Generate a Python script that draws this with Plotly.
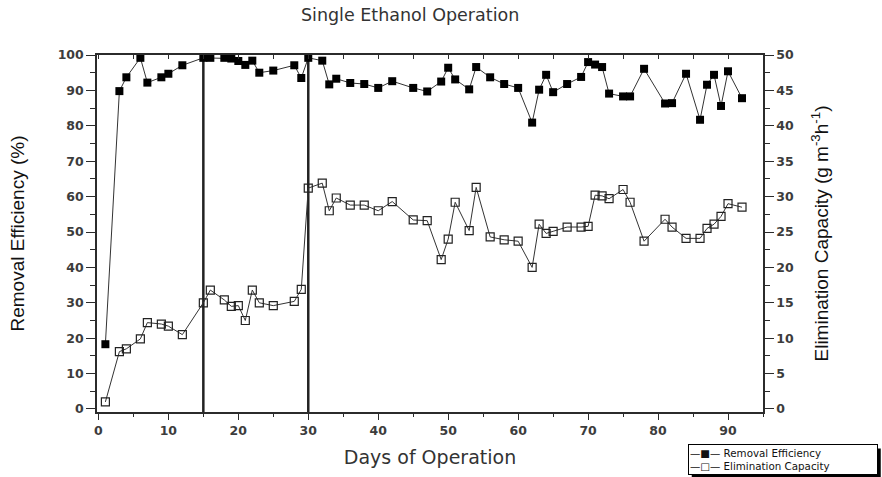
import plotly.graph_objects as go

# Sampling days and measured series
days = [1, 3, 4, 6, 7, 9, 10, 12, 15, 16, 18, 19, 20, 21, 22, 23, 25, 28, 29, 30,
        32, 33, 34, 36, 38, 40, 42, 45, 47, 49, 50, 51, 53, 54, 56, 58, 60,
        62, 63, 64, 65, 67, 69, 70, 71, 72, 73, 75, 76, 78,
        81, 82, 84, 86, 87, 88, 89, 90, 92]

removal_efficiency = [18.3, 89.8, 93.7, 99.2, 92.2, 93.7, 94.7, 97.1, 99.2, 99.2,
                      99.2, 99.0, 98.3, 97.2, 98.4, 95.0, 95.6, 97.1, 93.5, 99.2,
                      98.4, 91.7, 93.3, 92.1, 91.8, 90.7, 92.6, 90.7, 89.7, 92.5,
                      96.4, 93.1, 90.3, 96.6, 93.7, 91.8, 90.7, 80.9, 90.2, 94.4,
                      89.5, 91.8, 93.8, 98.0, 97.3, 96.6, 89.1, 88.3, 88.3, 96.1,
                      86.3, 86.4, 94.7, 81.7, 91.6, 94.4, 85.6, 95.4, 87.8]

elimination_capacity = [1.0, 8.1, 8.5, 9.9, 12.2, 12.0, 11.7, 10.5, 15.0, 16.8,
                        15.4, 14.5, 14.6, 12.5, 16.8, 15.0, 14.6, 15.2, 16.9, 31.2,
                        31.9, 28.0, 29.8, 28.8, 28.8, 28.0, 29.3, 26.7, 26.6, 21.1,
                        24.0, 29.2, 25.2, 31.3, 24.3, 23.9, 23.7, 20.0, 26.1, 24.8,
                        25.1, 25.7, 25.7, 25.8, 30.2, 30.1, 29.7, 31.0, 29.2, 23.7,
                        26.8, 25.7, 24.1, 24.1, 25.5, 26.1, 27.2, 29.0, 28.5]

# Phase boundaries (days)
phase_changes = [15, 30]

x_ticks = list(range(0, 100, 10))
re_ticks = list(range(0, 101, 10))
ec_ticks = list(range(0, 51, 5))

AX = "#2b2b2b"
TICK_FONT = dict(family="DejaVu Sans", size=12.5, color="#3c3c3c", weight="bold")
TITLE_FONT = dict(family="Liberation Sans, Arial", size=19, color="#111")

fig = go.Figure()

fig.add_trace(go.Scatter(
    x=days, y=removal_efficiency, name="Removal Efficiency",
    mode="lines+markers", xaxis="x", yaxis="y",
    line=dict(color="#333", width=1),
    marker=dict(symbol="square", size=8, color="#000"),
    showlegend=False,
))
fig.add_trace(go.Scatter(
    x=days, y=elimination_capacity, name="Elimination Capacity",
    mode="lines+markers", xaxis="x2", yaxis="y2",
    line=dict(color="#333", width=1),
    marker=dict(symbol="square-open", size=8, color="#222", line=dict(width=1.2)),
    showlegend=False,
))

for d in phase_changes:
    fig.add_vline(x=d, line_width=2.5, line_color="#222", layer="below")

# Legend box (bottom right) with a drop shadow
LEG_X, LEG_Y = 0.887, -0.091
LEG_W, LEG_H = 186, 27
fig.add_shape(type="rect", xref="paper", yref="paper",
              xsizemode="pixel", ysizemode="pixel",
              xanchor=LEG_X, yanchor=LEG_Y,
              x0=4, x1=LEG_W + 7, y0=-(LEG_H + 7), y1=-4,
              fillcolor="#000", line=dict(width=0), layer="above")
fig.add_annotation(
    xref="paper", yref="paper", x=LEG_X, y=LEG_Y,
    xanchor="left", yanchor="top", align="left", valign="middle",
    showarrow=False, width=LEG_W, height=LEG_H,
    text=("\u2014\u25A0\u2014 Removal Efficiency<br>"
          "\u2014\u25A1\u2014 Elimination Capacity"),
    bgcolor="#fff", bordercolor="#000", borderwidth=1, borderpad=1,
    font=dict(family="DejaVu Sans", size=10.3, color="#111"),
)

fig.update_layout(
    width=882, height=477,
    margin=dict(l=97, r=119, t=54.5, b=64.5),
    paper_bgcolor="#fff", plot_bgcolor="#fff",
    title=dict(text="Single Ethanol Operation", x=0.465, xanchor="center",
               y=0.968, yanchor="middle",
               font=dict(family="DejaVu Sans", size=17.5, color="#333")),
    xaxis=dict(
        range=[-0.2, 95], tickvals=x_ticks, ticks="outside", ticklen=6,
        tickwidth=1.3, tickcolor=AX, showline=True, linecolor=AX, linewidth=1.5,
        showgrid=False, zeroline=False, tickfont=TICK_FONT,
        minor=dict(dtick=5, ticks="outside", ticklen=3, tickcolor=AX, tickwidth=1.3),
        title=dict(text="Days of Operation", standoff=14,
                   font=dict(family="DejaVu Sans", size=19, color="#333")),
    ),
    xaxis2=dict(
        range=[-0.2, 95], overlaying="x", side="top", anchor="y2",
        dtick=5, ticks="inside", ticklen=4, tickwidth=1.3, tickcolor=AX,
        showticklabels=False, showline=True, linecolor=AX, linewidth=1.5,
        showgrid=False, zeroline=False,
    ),
    yaxis=dict(
        range=[-0.85, 100], tickvals=re_ticks, ticks="outside", ticklen=9,
        tickwidth=1.3, tickcolor=AX, showline=True, linecolor=AX, linewidth=1.5,
        showgrid=False, zeroline=False, tickfont=TICK_FONT,
        minor=dict(dtick=5, ticks="outside", ticklen=5, tickcolor=AX, tickwidth=1.3),
        title=dict(text="Removal Efficiency (%)", standoff=28, font=TITLE_FONT),
    ),
    yaxis2=dict(
        range=[-0.425, 50], tickvals=ec_ticks, overlaying="y", side="right",
        anchor="x", ticks="outside", ticklen=9, tickwidth=1.3, tickcolor=AX,
        showline=True, linecolor=AX, linewidth=1.5,
        showgrid=False, zeroline=False, tickfont=TICK_FONT,
        minor=dict(dtick=2.5, ticks="outside", ticklen=5, tickcolor=AX, tickwidth=1.3),
        title=dict(text="Elimination Capacity (g m<sup>-3</sup>h<sup>-1</sup>)",
                   standoff=22, font=TITLE_FONT),
    ),
)

fig.write_html("out.html")
